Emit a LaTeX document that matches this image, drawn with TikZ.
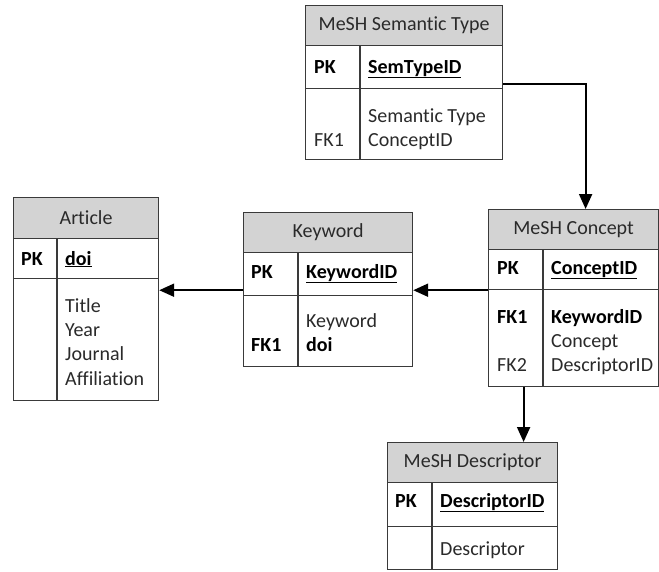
\documentclass[tikz,border=0pt]{standalone}
\usepackage{fontspec}
\setmainfont{Carlito}[Ligatures=NoCommon]
\usetikzlibrary{arrows.meta,calc}
\definecolor{hdrgray}{HTML}{D3D3D3}
\definecolor{linegray}{HTML}{3A3A3A}
\definecolor{txtgray}{HTML}{2A2A2A}
\begin{document}
\begin{tikzpicture}[x=1pt,y=-1pt,
  font=\fontsize{20}{24}\selectfont,
  hdr/.style={draw=linegray,line width=1.2pt,fill=hdrgray,anchor=north west,inner sep=0pt,text=txtgray},
  rowbox/.style={draw=linegray,line width=1.2pt,fill=white,anchor=north west,inner sep=0pt},
  divider/.style={draw=linegray,line width=1.2pt},
  txt/.style={anchor=base west,inner sep=0pt,text=txtgray},
  btxt/.style={anchor=base west,inner sep=0pt,text=black,font=\fontsize{20}{24}\selectfont\bfseries},
  conn/.style={draw=black,line width=2pt,-{Triangle[length=15pt,width=13pt]}}]
\useasboundingbox (0,0) rectangle (659,571);

% MeSH Semantic Type
\node[hdr,minimum width=197pt,minimum height=40pt] (semh) at (305,5) {MeSH Semantic Type};
\node[rowbox,minimum width=197pt,minimum height=43pt] (semk) at (305,45) {};
\node[rowbox,minimum width=197pt,minimum height=71pt] (semb) at (305,88) {};
\draw[divider] (360,45) -- (360,159);
\node[btxt] (sempk) at (314,73) {PK};
\node[btxt] (semid) at (368,73) {\underline{SemTypeID}};
\node[txt] (semt1) at (368,122) {Semantic Type};
\node[txt] (semt2) at (368,146) {ConceptID};
\node[txt] (semfk) at (314,146) {FK1};

% Article
\node[hdr,minimum width=145pt,minimum height=41pt] (arth) at (13,197) {Article};
\node[rowbox,minimum width=145pt,minimum height=40pt] (artk) at (13,238) {};
\node[rowbox,minimum width=145pt,minimum height=122pt] (artb) at (13,278) {};
\draw[divider] (57,238) -- (57,400);
\node[btxt] (artpk) at (21,265) {PK};
\node[btxt] (artid) at (65,265) {\underline{doi}};
\node[txt] (art1) at (65,312) {Title};
\node[txt] (art2) at (65,336) {Year};
\node[txt] (art3) at (65,360) {Journal};
\node[txt] (art4) at (65,385) {Affiliation};

% Keyword
\node[hdr,minimum width=169pt,minimum height=40pt] (kwh) at (243,212) {Keyword};
\node[rowbox,minimum width=169pt,minimum height=43pt] (kwk) at (243,252) {};
\node[rowbox,minimum width=169pt,minimum height=71pt] (kwb) at (243,295) {};
\draw[divider] (298,252) -- (298,366);
\node[btxt] (kwpk) at (251,278) {PK};
\node[btxt] (kwid) at (306,278) {\underline{KeywordID}};
\node[txt] (kw1) at (306,327) {Keyword};
\node[btxt] (kw2) at (306,351) {doi};
\node[btxt] (kwfk) at (251,351) {FK1};

% MeSH Concept
\node[hdr,minimum width=170pt,minimum height=40pt] (conh) at (488,209) {MeSH Concept};
\node[rowbox,minimum width=170pt,minimum height=40pt] (conk) at (488,249) {};
\node[rowbox,minimum width=170pt,minimum height=97pt] (conb) at (488,289) {};
\draw[divider] (543,249) -- (543,386);
\node[btxt] (conpk) at (497,274) {PK};
\node[btxt] (conid) at (551,274) {\underline{ConceptID}};
\node[btxt] (confk1) at (497,323) {FK1};
\node[btxt] (con1) at (551,323) {KeywordID};
\node[txt] (con2) at (551,347) {Concept};
\node[txt] (confk2) at (497,371) {FK2};
\node[txt] (con3) at (551,371) {DescriptorID};

% MeSH Descriptor
\node[hdr,minimum width=170pt,minimum height=40pt] (desh) at (387,442) {MeSH Descriptor};
\node[rowbox,minimum width=170pt,minimum height=44pt] (desk) at (387,482) {};
\node[rowbox,minimum width=170pt,minimum height=43pt] (desb) at (387,526) {};
\draw[divider] (432,482) -- (432,569);
\node[btxt] (despk) at (395,507) {PK};
\node[btxt] (desid) at (440,507) {\underline{DescriptorID}};
\node[txt] (des1) at (440,555) {Descriptor};

% connectors
\draw[conn] ([yshift=5pt]semk.south east) -| ([xshift=12pt]conh.north);
\draw[conn] (conk.south west) -- (conk.south west -| kwb.east);
\draw[conn] ([yshift=6pt]kwk.south west) -- ([yshift=6pt]kwk.south west -| artb.east);
\draw[conn] ([xshift=-50pt]conb.south) -- ([xshift=-50pt]conb.south |- desh.north);
\end{tikzpicture}
\end{document}
